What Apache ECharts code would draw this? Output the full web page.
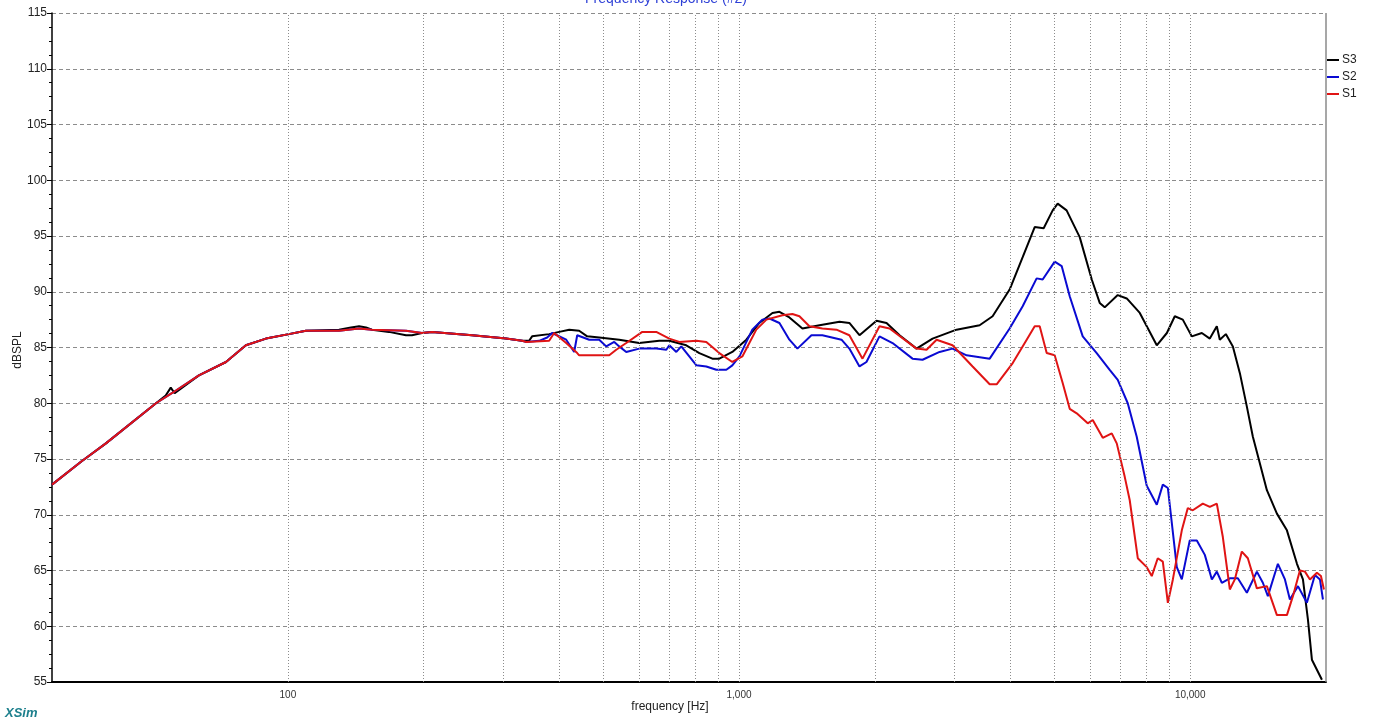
<!DOCTYPE html>
<html>
<head>
<meta charset="utf-8">
<script src="https://cdn.jsdelivr.net/npm/echarts@6/dist/echarts.min.js"></script>
<style>
html,body{margin:0;padding:0;background:#fff;}
#chart{width:1373px;height:719px;}
</style>
</head>
<body>
<div id="chart"></div>
<script>
// ---- data (frequency in Hz, level in dBSPL) ----
const seriesNames = ['S3', 'S2', 'S1'];
const yTicks = [55, 60, 65, 70, 75, 80, 85, 90, 95, 100, 105, 110, 115];
const xLabelTicks = [100, 1000, 10000];
const gridFreqs = [100, 200, 300, 400, 500, 600, 700, 800, 900,
  1000, 2000, 3000, 4000, 5000, 6000, 7000, 8000, 9000, 10000];

const freqS1 = [30, 34.9, 39.5, 51.0, 55.3, 63.5, 72.9, 80.7, 89.4, 100.5, 109.6, 129.8, 143.8, 153.6, 182.7, 198.3, 208.7, 256.1, 304.5, 330.6, 337.5, 379.4, 389.2, 413.9, 437.8, 442.2, 489.8, 515.5, 534.3, 562.3, 610.3, 655.4, 700.5, 737.2, 804.5, 846.1, 904.2, 966.3, 1017, 1092, 1150, 1248, 1313, 1361, 1432, 1530, 1644, 1756, 1878, 2048, 2156, 2474, 2604, 2741, 2973, 3294, 3594, 3724, 4042, 4341, 4522, 4639, 4808, 5008, 5218, 5407, 5604, 5928, 6081, 6400, 6701, 6874, 7160, 7345, 7653, 8011, 8219, 8474, 8696, 8923, 9154, 9581, 9879, 10134, 10666, 11053, 11455, 11813, 12242, 12560, 13016, 13421, 14054, 14791, 15567, 16383, 16893, 17507, 17961, 18426, 19095, 19490, 19790];
const dbS1 = [72.7, 74.8, 76.4, 80.0, 80.9, 82.5, 83.7, 85.2, 85.8, 86.2, 86.5, 86.5, 86.7, 86.6, 86.5, 86.3, 86.4, 86.1, 85.8, 85.6, 85.5, 85.6, 86.3, 85.4, 84.5, 84.3, 84.3, 84.3, 84.8, 85.4, 86.4, 86.4, 85.8, 85.5, 85.6, 85.5, 84.5, 83.7, 84.2, 86.6, 87.5, 87.9, 88.0, 87.8, 86.9, 86.7, 86.6, 86.1, 84.0, 86.9, 86.7, 84.9, 84.8, 85.7, 85.2, 83.3, 81.7, 81.7, 83.6, 85.7, 86.9, 86.9, 84.5, 84.3, 81.8, 79.5, 79.1, 78.2, 78.5, 76.9, 77.3, 76.4, 73.4, 71.3, 66.1, 65.3, 64.5, 66.1, 65.8, 62.1, 64.2, 68.6, 70.6, 70.4, 71.0, 70.7, 71.0, 68.0, 63.3, 64.2, 66.7, 66.1, 63.4, 63.6, 61.0, 61.0, 62.7, 65.0, 64.9, 64.2, 64.8, 64.5, 63.3];

const freqS2 = [30, 34.9, 39.5, 51.0, 55.3, 63.5, 72.9, 80.7, 89.4, 100.5, 109.6, 129.8, 143.8, 153.6, 182.7, 198.3, 208.7, 256.1, 304.5, 330.6, 337.5, 360.6, 375.6, 385.3, 413.9, 431.1, 437.8, 465.5, 489.8, 507.7, 528.9, 542.6, 562.3, 600.8, 655.4, 689.9, 700.5, 726.1, 744.7, 775.7, 804.5, 846.1, 890.5, 937.1, 966.3, 1002, 1070, 1126, 1168, 1229, 1293, 1347, 1447, 1530, 1687, 1756, 1849, 1916, 2048, 2189, 2424, 2551, 2783, 2973, 3194, 3594, 3979, 4253, 4567, 4710, 5008, 5190, 5407, 5778, 6205, 6631, 6909, 7271, 7612, 8011, 8432, 8696, 8923, 9340, 9581, 9979, 10344, 10775, 11169, 11455, 11752, 12242, 12753, 13354, 14054, 14490, 14866, 15646, 16218, 16634, 17332, 18143, 18901, 19391, 19690];
const dbS2 = [72.7, 74.8, 76.4, 80.0, 80.9, 82.5, 83.7, 85.2, 85.8, 86.2, 86.5, 86.5, 86.7, 86.6, 86.5, 86.3, 86.4, 86.1, 85.8, 85.6, 85.5, 85.6, 85.9, 86.3, 85.7, 84.6, 86.1, 85.7, 85.7, 85.1, 85.5, 85.1, 84.6, 84.9, 84.9, 84.8, 85.2, 84.6, 85.1, 84.2, 83.4, 83.3, 83.0, 83.0, 83.4, 84.2, 86.6, 87.5, 87.6, 87.2, 85.7, 84.9, 86.1, 86.1, 85.7, 84.9, 83.3, 83.7, 86.0, 85.4, 84.0, 83.9, 84.6, 84.9, 84.3, 84.0, 86.7, 88.7, 91.2, 91.1, 92.7, 92.3, 89.6, 86.0, 84.5, 83.0, 82.1, 80.0, 77.0, 72.6, 70.9, 72.7, 72.4, 65.3, 64.2, 67.7, 67.7, 66.4, 64.2, 64.9, 63.9, 64.3, 64.3, 63.0, 64.9, 63.9, 62.7, 65.6, 64.2, 62.4, 63.6, 62.1, 64.6, 64.2, 62.4];

const freqS3 = [30, 34.9, 39.5, 51.0, 53.6, 55.0, 56.1, 63.5, 72.9, 80.7, 89.4, 100.5, 109.6, 129.8, 138.0, 143.8, 149.0, 153.6, 167.5, 182.7, 188.4, 198.3, 208.7, 256.1, 304.5, 330.6, 342.5, 347.8, 379.4, 399.4, 420.4, 442.2, 460.7, 489.8, 542.6, 600.8, 665.6, 700.5, 763.8, 816.6, 872.8, 904.2, 966.3, 1038, 1109, 1186, 1229, 1293, 1382, 1508, 1670, 1756, 1849, 2017, 2123, 2269, 2474, 2685, 3035, 3414, 3648, 3979, 4253, 4522, 4734, 4957, 5085, 5322, 5690, 6051, 6302, 6465, 6909, 7234, 7732, 8432, 8878, 9244, 9629, 10083, 10612, 11053, 11455, 11632, 11995, 12433, 12886, 13354, 13770, 14272, 14791, 15567, 16383, 17245, 17779, 18239, 18612, 19588];
const dbS3 = [72.7, 74.8, 76.4, 80.0, 80.7, 81.4, 80.9, 82.5, 83.7, 85.2, 85.8, 86.2, 86.5, 86.6, 86.8, 86.9, 86.8, 86.6, 86.4, 86.1, 86.1, 86.3, 86.4, 86.1, 85.8, 85.6, 85.6, 86.0, 86.2, 86.4, 86.6, 86.5, 86.0, 85.9, 85.7, 85.4, 85.6, 85.6, 85.2, 84.5, 84.0, 84.0, 84.6, 85.7, 87.2, 88.1, 88.2, 87.7, 86.7, 87.0, 87.3, 87.2, 86.1, 87.4, 87.2, 86.1, 84.9, 85.8, 86.6, 87.0, 87.8, 90.2, 93.1, 95.8, 95.7, 97.3, 97.9, 97.3, 94.9, 91.1, 89.0, 88.6, 89.7, 89.4, 88.1, 85.2, 86.3, 87.8, 87.5, 86.0, 86.3, 85.8, 86.9, 85.7, 86.2, 85.1, 82.7, 79.7, 77.0, 74.6, 72.2, 70.1, 68.6, 65.6, 64.2, 60.6, 57.0, 55.2];

const colors = {S3: '#000000', S2: '#0a0ad2', S1: '#e01414'};
const pairs = (fs, vs) => fs.map((f, i) => [f, vs[i]]);
const seriesData = {S3: pairs(freqS3, dbS3), S2: pairs(freqS2, dbS2), S1: pairs(freqS1, dbS1)};

const chart = echarts.init(document.getElementById('chart'), null, {renderer: 'canvas'});

const gridMarks = gridFreqs.map(f => ({xAxis: f}));
gridMarks.push({xAxis: 20000, lineStyle: {type: 'solid', color: '#8a8a8a', width: 1.5}});

const option = {
  animation: false,
  backgroundColor: '#ffffff',
  grid: {left: 52, right: 47, top: 13, bottom: 37, containLabel: false},
  legend: {
    orient: 'vertical', left: 1327, top: 54, padding: 0,
    itemWidth: 12, itemHeight: 2, itemGap: 5, icon: 'rect',
    data: seriesNames,
    textStyle: {fontSize: 12, color: '#222', fontFamily: 'Liberation Sans, Arial, sans-serif', padding: [0, 0, 0, -2]}
  },
  xAxis: {
    type: 'log', logBase: 10, min: 30, max: 20000,
    splitLine: {show: false},
    axisTick: {show: false},
    axisLine: {lineStyle: {color: '#000', width: 2}},
    axisLabel: {
      fontSize: 10, color: '#333', margin: 8,
      fontFamily: 'Liberation Sans, Arial, sans-serif',
      showMinLabel: false, showMaxLabel: false,
      formatter: v => {
        const r = Math.round(v);
        return xLabelTicks.includes(r) ? r.toLocaleString('en-US') : '';
      }
    }
  },
  yAxis: {
    type: 'value', min: yTicks[0], max: yTicks[yTicks.length - 1], interval: 5,
    axisLine: {show: true, lineStyle: {color: '#000', width: 1.5}},
    axisTick: {show: true, length: 5, lineStyle: {color: '#000'}},
    minorTick: {show: true, splitNumber: 4, length: 3, lineStyle: {color: '#000'}},
    splitLine: {show: true, lineStyle: {type: [4, 3], color: '#8c8c8c', width: 1}},
    axisLabel: {fontSize: 12, color: '#222', margin: 5, fontFamily: 'Liberation Sans, Arial, sans-serif'}
  },
  series: seriesNames.map((name, idx) => {
    const s = {
      name, type: 'line', data: seriesData[name],
      showSymbol: false, symbol: 'none', smooth: false,
      lineStyle: {color: colors[name], width: 2},
      itemStyle: {color: colors[name]},
      z: 2 + idx
    };
    if (idx === 0) {
      s.markLine = {
        silent: true, symbol: ['none', 'none'], label: {show: false},
        lineStyle: {type: [1, 2], color: '#8c8c8c', width: 1},
        emphasis: {disabled: true},
        data: gridMarks
      };
    }
    return s;
  }),
  graphic: [
    {type: 'text', x: 666, y: -8, silent: true,
     style: {text: 'Frequency Response (#2)', fill: '#2d3fd6', font: '14px "Liberation Sans", Arial, sans-serif', align: 'center', verticalAlign: 'top'}},
    {type: 'text', x: 670, y: 701, silent: true,
     style: {text: 'frequency [Hz]', fill: '#222', font: '12px "Liberation Sans", Arial, sans-serif', align: 'center', verticalAlign: 'top'}},
    {type: 'text', x: 18, y: 350, rotation: Math.PI / 2, silent: true,
     style: {text: 'dBSPL', fill: '#222', font: '12px "Liberation Sans", Arial, sans-serif', align: 'center', verticalAlign: 'middle'}},
    {type: 'text', x: 5, y: 707, silent: true,
     style: {text: 'XSim', fill: '#1c7f8c', font: 'italic bold 13px "Liberation Sans", Arial, sans-serif', align: 'left', verticalAlign: 'top'}}
  ]
};
chart.setOption(option);
</script>
</body>
</html>
